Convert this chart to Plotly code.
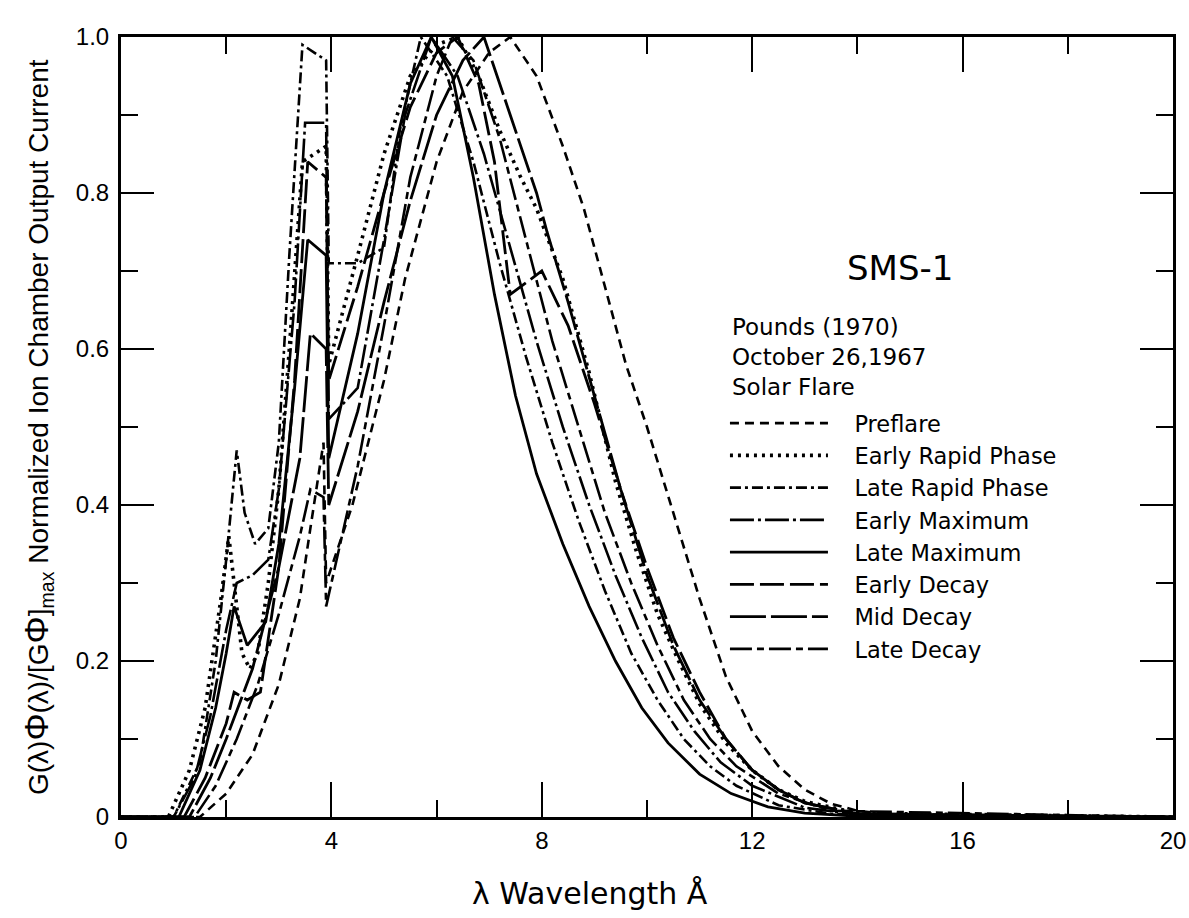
import plotly.graph_objects as go

# Normalized ion-chamber response curves, SMS-1, solar flare of October 26, 1967
preflare_x = [0, 1.5, 2.0, 2.5, 3.0, 3.4, 3.6, 3.85, 3.9, 4.4, 5.0, 5.4, 6.0, 6.5, 7.0, 7.4, 7.9, 8.4, 8.8, 9.2, 9.6, 10.0, 10.5, 11.0, 11.5, 12.0, 12.5, 13.0, 13.5, 14.0, 15.0, 20.0]
preflare_y = [0, 0, 0.03, 0.08, 0.17, 0.28, 0.37, 0.48, 0.30, 0.40, 0.56, 0.69, 0.84, 0.93, 0.98, 1.0, 0.95, 0.86, 0.78, 0.68, 0.58, 0.50, 0.39, 0.28, 0.18, 0.11, 0.065, 0.035, 0.017, 0.008, 0.0, 0.0]

early_rapid_x = [0, 0.9, 1.3, 1.6, 1.9, 2.05, 2.15, 2.3, 2.45, 2.6, 2.8, 3.0, 3.2, 3.45, 3.9, 3.95, 4.5, 5.0, 5.5, 6.0, 6.4, 6.8, 7.2, 7.6, 7.9, 8.4, 8.9, 9.4, 9.8, 10.2, 10.6, 11.0, 11.5, 12.0, 12.5, 13.0, 14.0, 20.0]
early_rapid_y = [0, 0, 0.06, 0.14, 0.28, 0.36, 0.30, 0.21, 0.19, 0.21, 0.30, 0.42, 0.60, 0.84, 0.86, 0.58, 0.72, 0.85, 0.95, 0.99, 1.0, 0.95, 0.88, 0.82, 0.78, 0.69, 0.57, 0.43, 0.34, 0.26, 0.20, 0.145, 0.095, 0.06, 0.035, 0.02, 0.005, 0]

late_rapid_x = [0, 1.0, 1.5, 1.8, 2.0, 2.2, 2.35, 2.55, 2.8, 3.0, 3.2, 3.45, 3.9, 3.95, 4.5, 5.0, 5.3, 5.7, 6.2, 6.7, 7.2, 7.7, 8.2, 8.7, 9.2, 9.7, 10.2, 10.7, 11.2, 11.7, 12.5, 13.5, 20.0]
late_rapid_y = [0, 0, 0.07, 0.20, 0.33, 0.47, 0.39, 0.35, 0.37, 0.48, 0.72, 0.99, 0.97, 0.71, 0.71, 0.73, 0.88, 1.0, 0.95, 0.84, 0.71, 0.59, 0.48, 0.38, 0.29, 0.21, 0.15, 0.10, 0.065, 0.04, 0.015, 0.004, 0]

early_max_x = [0, 1.0, 1.4, 1.7, 2.0, 2.2, 2.5, 2.8, 3.0, 3.3, 3.5, 3.9, 3.95, 4.5, 5.0, 5.4, 5.9, 6.4, 6.9, 7.4, 7.9, 8.4, 8.9, 9.4, 9.9, 10.4, 10.9, 11.4, 12.0, 13.0, 14.0, 20.0]
early_max_y = [0, 0, 0.05, 0.13, 0.24, 0.30, 0.31, 0.33, 0.42, 0.66, 0.89, 0.89, 0.51, 0.55, 0.74, 0.90, 1.0, 0.95, 0.85, 0.73, 0.61, 0.50, 0.40, 0.31, 0.23, 0.16, 0.11, 0.07, 0.04, 0.012, 0.003, 0]

late_max_x = [0, 1.1, 1.5, 1.8, 2.0, 2.15, 2.4, 2.75, 3.0, 3.3, 3.55, 3.9, 3.95, 4.5, 5.0, 5.5, 5.9, 6.3, 6.7, 7.1, 7.5, 7.9, 8.4, 8.9, 9.4, 9.9, 10.4, 11.0, 11.6, 12.3, 13.0, 14.0, 20.0]
late_max_y = [0, 0, 0.06, 0.14, 0.21, 0.27, 0.22, 0.25, 0.35, 0.55, 0.74, 0.72, 0.46, 0.62, 0.80, 0.94, 1.0, 0.95, 0.82, 0.67, 0.54, 0.44, 0.35, 0.27, 0.20, 0.14, 0.095, 0.055, 0.03, 0.013, 0.005, 0.001, 0]

early_decay_x = [0, 1.2, 1.6, 2.0, 2.15, 2.4, 2.65, 3.0, 3.3, 3.55, 3.9, 3.95, 4.5, 5.0, 5.5, 6.0, 6.4, 6.8, 7.1, 7.4, 8.0, 8.5, 9.0, 9.5, 10.0, 10.5, 11.0, 11.5, 12.0, 12.5, 13.0, 14.0, 20.0]
early_decay_y = [0, 0, 0.05, 0.12, 0.16, 0.15, 0.16, 0.32, 0.56, 0.84, 0.82, 0.56, 0.68, 0.80, 0.91, 0.98, 1.0, 0.94, 0.84, 0.67, 0.70, 0.63, 0.53, 0.42, 0.32, 0.23, 0.16, 0.10, 0.06, 0.035, 0.018, 0.004, 0]

mid_decay_x = [0, 1.3, 1.7, 2.0, 2.5, 3.0, 3.4, 3.6, 3.9, 3.95, 4.5, 5.0, 5.5, 6.0, 6.5, 6.9, 7.4, 7.9, 8.1, 8.5, 9.0, 9.5, 10.0, 10.5, 11.0, 11.5, 12.0, 12.5, 13.0, 14.0, 20.0]
mid_decay_y = [0, 0, 0.05, 0.10, 0.19, 0.32, 0.46, 0.62, 0.60, 0.40, 0.52, 0.66, 0.79, 0.90, 0.97, 1.0, 0.90, 0.80, 0.75, 0.66, 0.54, 0.42, 0.31, 0.22, 0.15, 0.10, 0.06, 0.035, 0.018, 0.004, 0]

late_decay_x = [0, 1.4, 1.8, 2.2, 2.6, 3.0, 3.4, 3.6, 3.85, 3.9, 4.5, 5.0, 5.5, 6.0, 6.3, 6.7, 7.2, 7.7, 8.2, 8.7, 9.2, 9.7, 10.2, 10.7, 11.2, 11.7, 12.5, 13.5, 20.0]
late_decay_y = [0, 0, 0.04, 0.10, 0.17, 0.26, 0.36, 0.42, 0.41, 0.27, 0.45, 0.63, 0.82, 0.95, 1.0, 0.97, 0.87, 0.74, 0.61, 0.50, 0.39, 0.30, 0.22, 0.15, 0.10, 0.065, 0.03, 0.008, 0]

x_ticks = [0, 4, 8, 12, 16, 20]
x_tick_text = ["0", "4", "8", "12", "16", "20"]
y_ticks = [0, 0.2, 0.4, 0.6, 0.8, 1.0]
y_tick_text = ["0", "0.2", "0.4", "0.6", "0.8", "1.0"]

series = [
    ("Preflare", preflare_x, preflare_y, "9px,6px", 2.6),
    ("Early Rapid Phase", early_rapid_x, early_rapid_y, "3px,5px", 3.6),
    ("Late Rapid Phase", late_rapid_x, late_rapid_y, "11px,4px,3px,4px", 2.6),
    ("Early Maximum", early_max_x, early_max_y, "24px,4px,3px,4px", 2.6),
    ("Late Maximum", late_max_x, late_max_y, "solid", 2.8),
    ("Early Decay", early_decay_x, early_decay_y, "24px,6px", 2.8),
    ("Mid Decay", mid_decay_x, mid_decay_y, "36px,5px", 2.8),
    ("Late Decay", late_decay_x, late_decay_y, "22px,5px,7px,5px", 2.6),
]

PAD = "\u00a0\u00a0\u00a0"

fig = go.Figure()
for name, xs, ys, dash, w in series:
    fig.add_trace(go.Scatter(
        x=xs, y=ys, mode="lines", name=PAD + name,
        line=dict(color="black", width=w, dash=dash),
    ))

narrow = "Liberation Sans Narrow, Arial Narrow, sans-serif"
tick_font = dict(family=narrow, size=24, color="black")
text_font = "DejaVu Sans, Verdana, sans-serif"

fig.update_layout(
    width=1189, height=918,
    margin=dict(l=121, r=16, t=37, b=101),
    paper_bgcolor="white", plot_bgcolor="white",
    showlegend=True,
    legend=dict(
        x=0.5741, y=0.532, xanchor="left", yanchor="top",
        bgcolor="rgba(0,0,0,0)", borderwidth=0,
        itemwidth=98, tracegroupgap=0,
        font=dict(family=text_font, size=22.5, color="black"),
    ),
    xaxis=dict(
        range=[0, 20], tickvals=x_ticks, ticktext=x_tick_text,
        showline=True, linewidth=3, linecolor="black", mirror="ticks",
        ticks="inside", ticklen=35, tickwidth=2, tickcolor="black",
        minor=dict(dtick=2, ticks="inside", ticklen=17, tickwidth=2, tickcolor="black"),
        showgrid=False, zeroline=False, tickfont=tick_font,
        ticklabelstandoff=0, ticklabeloverflow="allow", automargin=False,
    ),
    yaxis=dict(
        range=[0, 1], tickvals=y_ticks, ticktext=y_tick_text,
        showline=True, linewidth=3, linecolor="black", mirror="ticks",
        ticks="inside", ticklen=33, tickwidth=2, tickcolor="black",
        minor=dict(dtick=0.1, ticks="inside", ticklen=17, tickwidth=2, tickcolor="black"),
        showgrid=False, zeroline=False, tickfont=tick_font,
        ticklabelstandoff=4, ticklabeloverflow="allow", automargin=False,
    ),
    annotations=[
        dict(text="G(λ)<span style='font-size:34px'>Φ</span>(λ)/[G<span style='font-size:34px'>Φ</span>]<sub>max</sub> Normalized Ion Chamber Output Current",
             xref="paper", yref="paper", x=-0.0798, y=0.5, textangle=-90,
             showarrow=False, xanchor="center", yanchor="middle",
             font=dict(family=narrow, size=28, color="black")),
        dict(text="λ Wavelength Å", xref="paper", yref="paper", x=0.4458, y=-0.098,
             showarrow=False, xanchor="center", yanchor="middle",
             font=dict(family=text_font, size=30, color="black")),
        dict(text="SMS-1", xref="paper", yref="paper", x=0.688, y=0.704,
             showarrow=False, xanchor="left", yanchor="middle",
             font=dict(family=text_font, size=34, color="black")),
        dict(text="Pounds (1970)<br>October 26,1967<br>Solar Flare", xref="paper", yref="paper",
             x=0.579, y=0.647, showarrow=False, xanchor="left", yanchor="top", align="left",
             font=dict(family=text_font, size=23, color="black")),
    ],
)

fig.write_html("out.html")
